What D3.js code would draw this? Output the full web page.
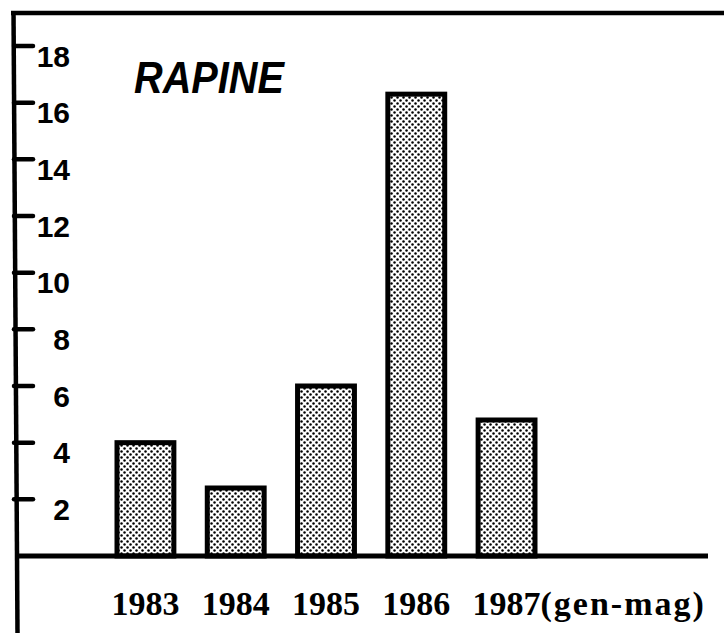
<!DOCTYPE html>
<html>
<head>
<meta charset="utf-8">
<script src="https://cdn.jsdelivr.net/npm/d3@7"></script>
<style>
  html, body { margin: 0; padding: 0; background: #fff; }
  svg { display: block; }
</style>
</head>
<body>
<svg id="chart" width="724" height="633"></svg>
<script>
// ---- data ----
const categories = ["1983", "1984", "1985", "1986", "1987(gen-mag)"];
const values = [4.0, 2.4, 6.0, 16.3, 4.8];
const yTicks = [2, 4, 6, 8, 10, 12, 14, 16, 18];
const title = "RAPINE";

// ---- layout ----
const W = 724, H = 633;
const svg = d3.select("#chart");

const x = d3.scaleBand().domain(categories).range([117, 535]).paddingInner(0.37).paddingOuter(0);
const y = d3.scaleLinear().domain([0, 18]).range([556, 46]);

// stipple pattern
const defs = svg.append("defs");
const pat = defs.append("pattern")
  .attr("id", "stipple")
  .attr("patternUnits", "userSpaceOnUse")
  .attr("width", 6).attr("height", 6);
pat.append("rect").attr("width", 6).attr("height", 6).attr("fill", "#fff");
pat.append("circle").attr("cx", 1.5).attr("cy", 1.5).attr("r", 1.25).attr("fill", "#000");
pat.append("circle").attr("cx", 4.5).attr("cy", 4.5).attr("r", 1.25).attr("fill", "#000");

// frame: top border and left axis line
svg.append("line")
  .attr("x1", 11).attr("y1", 13).attr("x2", W).attr("y2", 13)
  .attr("stroke", "#000").attr("stroke-width", 4.5);
svg.append("line")
  .attr("x1", 13.5).attr("y1", 11).attr("x2", 17.5).attr("y2", H)
  .attr("stroke", "#000").attr("stroke-width", 4.5);

// y ticks
const tickG = svg.append("g");
tickG.selectAll("line").data(yTicks).join("line")
  .attr("x1", 14).attr("x2", 33)
  .attr("y1", d => y(d)).attr("y2", d => y(d))
  .attr("stroke", "#000").attr("stroke-width", 4.5).attr("stroke-linecap", "round");
tickG.selectAll("text").data(yTicks).join("text")
  .attr("x", 70)
  .attr("y", d => y(d) + 10)
  .attr("text-anchor", "end")
  .attr("dominant-baseline", "central")
  .attr("font-family", "'Liberation Sans Narrow', 'Liberation Sans', Arial, sans-serif")
  .attr("font-weight", "bold")
  .attr("font-size", 30)
  .attr("fill", "#000")
  .text(d => d);

// bars
svg.append("g").selectAll("rect").data(values).join("rect")
  .attr("x", (d, i) => x(categories[i]))
  .attr("y", d => y(d))
  .attr("width", x.bandwidth())
  .attr("height", d => y(0) - y(d))
  .attr("fill", "url(#stipple)")
  .attr("stroke", "#000")
  .attr("stroke-width", 5);

// baseline
svg.append("line")
  .attr("x1", 16).attr("x2", 708)
  .attr("y1", y(0)).attr("y2", y(0))
  .attr("stroke", "#000").attr("stroke-width", 5);

// x labels
const xl = svg.append("g").selectAll("text").data(categories).join("text")
  .attr("x", d => x(d) + x.bandwidth() / 2 - 34)
  .attr("y", 615)
  .attr("text-anchor", "start")
  .attr("font-family", "'Liberation Serif', 'Times New Roman', serif")
  .attr("font-weight", "bold")
  .attr("font-size", 34)
  .attr("fill", "#000");
xl.each(function(d) {
  const t = d3.select(this);
  const k = d.indexOf("(");
  if (k < 0) { t.text(d); return; }
  t.append("tspan").text(d.slice(0, k));
  t.append("tspan").attr("letter-spacing", 2).text(d.slice(k));
});

// title
svg.append("text")
  .attr("x", 134).attr("y", 93)
  .attr("font-family", "'Liberation Sans', Arial, sans-serif")
  .attr("font-weight", "bold")
  .attr("font-style", "italic")
  .attr("font-size", 44)
  .attr("textLength", 150)
  .attr("lengthAdjust", "spacingAndGlyphs")
  .attr("fill", "#000")
  .text(title);
</script>
</body>
</html>
